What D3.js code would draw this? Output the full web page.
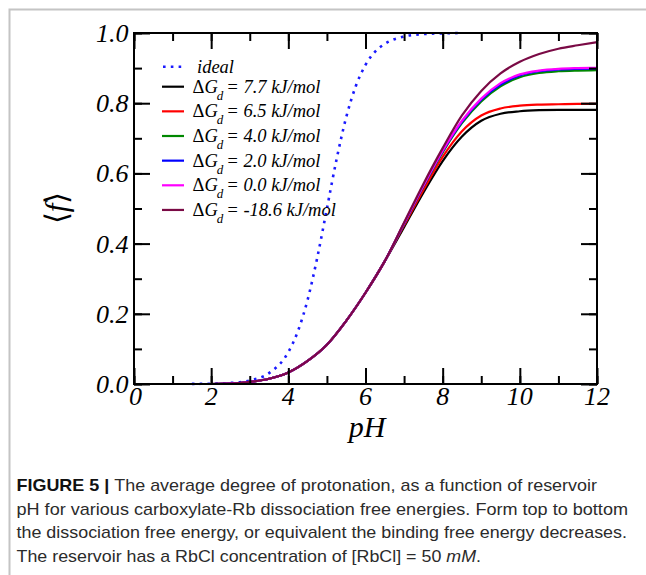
<!DOCTYPE html>
<html>
<head>
<meta charset="utf-8">
<script src="https://cdn.jsdelivr.net/npm/d3@7"></script>
<style>
  html, body { margin: 0; padding: 0; background: #fff; }
  svg { display: block; }
</style>
</head>
<body>
<svg id="fig" width="646" height="575"></svg>
<script>
// pH grid shared by the simulated curves
const phSim = [0, 1, 2, 2.5, 3, 3.5, 4, 4.5, 5, 5.5, 6, 6.5, 7, 7.5, 8, 8.5, 9, 9.5, 10, 10.5, 11, 11.5, 12];

// average degree of protonation <f> for each dissociation free energy
const f77  = [0, 0, 0.000, 0.001, 0.006, 0.015, 0.033, 0.066, 0.112, 0.18, 0.26, 0.35, 0.447, 0.545, 0.635, 0.705, 0.75, 0.77, 0.777, 0.780, 0.781, 0.781, 0.781];
const f65  = [0, 0, 0.000, 0.001, 0.006, 0.015, 0.033, 0.066, 0.112, 0.18, 0.26, 0.35, 0.452, 0.553, 0.647, 0.72, 0.765, 0.785, 0.793, 0.796, 0.797, 0.798, 0.798];
const f40  = [0, 0, 0.000, 0.001, 0.006, 0.015, 0.033, 0.066, 0.112, 0.18, 0.26, 0.35, 0.456, 0.562, 0.66, 0.743, 0.805, 0.848, 0.874, 0.886, 0.891, 0.893, 0.894];
const f20  = [0, 0, 0.000, 0.001, 0.006, 0.015, 0.033, 0.066, 0.112, 0.18, 0.26, 0.35, 0.457, 0.564, 0.663, 0.747, 0.81, 0.853, 0.879, 0.891, 0.896, 0.898, 0.899];
const f00  = [0, 0, 0.000, 0.001, 0.006, 0.015, 0.033, 0.066, 0.112, 0.18, 0.26, 0.35, 0.458, 0.565, 0.665, 0.75, 0.813, 0.857, 0.882, 0.893, 0.898, 0.900, 0.901];
const f186 = [0, 0, 0.000, 0.001, 0.006, 0.015, 0.033, 0.066, 0.112, 0.18, 0.26, 0.35, 0.46, 0.57, 0.672, 0.765, 0.835, 0.885, 0.918, 0.94, 0.955, 0.965, 0.974];

// ideal titration curve
const phIdeal = [1.5, 2, 2.5, 3, 3.5, 4, 4.25, 4.5, 4.75, 5, 5.25, 5.5, 5.75, 6, 6.25, 6.5, 7, 7.5, 8, 8.5];
const fIdeal  = [0.0003, 0.001, 0.003, 0.010, 0.031, 0.091, 0.151, 0.240, 0.360, 0.500, 0.640, 0.760, 0.849, 0.909, 0.947, 0.969, 0.990, 0.997, 0.999, 1.000];

const seriesNames = ["7.7", "6.5", "4.0", "2.0", "0.0", "-18.6"];
const seriesValues = [f77, f65, f40, f20, f00, f186];
const seriesColors = ["#000000", "#ff0000", "#008800", "#0000ff", "#ff00ff", "#7a0a45"];

const xTicks = [0, 2, 4, 6, 8, 10, 12];
const yTicks = [0.0, 0.2, 0.4, 0.6, 0.8, 1.0];

const captionLines = [
  "The average degree of protonation, as a function of reservoir",
  "pH for various carboxylate-Rb dissociation free energies. Form top to bottom",
  "the dissociation free energy, or equivalent the binding free energy decreases.",
  "The reservoir has a RbCl concentration of [RbCl] = 50 "
];

const svg = d3.select("#fig");
const serif = "'Liberation Serif', 'Times New Roman', serif";
const sans = "'Liberation Sans', Arial, sans-serif";

// panel border
svg.append("path")
  .attr("d", "M646,9.5 H9.5 V575")
  .attr("fill", "none").attr("stroke", "#c4c4c4").attr("stroke-width", 2);

const x = d3.scaleLinear().domain([0, 12]).range([134, 597]);
const y = d3.scaleLinear().domain([0, 1]).range([384, 33]);

const plot = svg.append("g");

// curves
const line = d3.line().x(d => x(d[0])).y(d => y(d[1])).curve(d3.curveMonotoneX);

plot.append("path")
  .datum(phIdeal.map((p, i) => [p, fIdeal[i]]))
  .attr("d", line)
  .attr("fill", "none").attr("stroke", "#1a1aff")
  .attr("stroke-width", 2.6).attr("stroke-dasharray", "2.6,5.2");

seriesValues.forEach((vals, k) => {
  plot.append("path")
    .datum(phSim.map((p, i) => [p, vals[i]]))
    .attr("d", line)
    .attr("fill", "none").attr("stroke", seriesColors[k])
    .attr("stroke-width", 2.2).attr("stroke-linejoin", "round");
});

// axes with inward ticks on all four sides
const minorX = d3.range(0, 12.01, 1), minorY = d3.range(0, 1.001, 0.1);
function tickAxis(axisGen, tr) {
  const g = svg.append("g").attr("transform", tr).call(axisGen);
  g.select(".domain").remove();
  g.selectAll("line").attr("stroke", "#000").attr("stroke-width", 2);
  g.selectAll("text").remove();
  return g;
}
tickAxis(d3.axisBottom(x).tickValues(minorX).tickSize(-8), "translate(0,384)");
tickAxis(d3.axisBottom(x).tickValues(xTicks).tickSize(-16), "translate(0,384)");
tickAxis(d3.axisTop(x).tickValues(minorX).tickSize(-8), "translate(0,33)");
tickAxis(d3.axisTop(x).tickValues(xTicks).tickSize(-16), "translate(0,33)");
tickAxis(d3.axisLeft(y).tickValues(minorY).tickSize(-8), "translate(134,0)");
tickAxis(d3.axisLeft(y).tickValues(yTicks).tickSize(-16), "translate(134,0)");
tickAxis(d3.axisRight(y).tickValues(minorY).tickSize(-8), "translate(597,0)");
tickAxis(d3.axisRight(y).tickValues(yTicks).tickSize(-16), "translate(597,0)");

svg.append("rect")
  .attr("x", x(0)).attr("y", y(1))
  .attr("width", x(12) - x(0)).attr("height", y(0) - y(1))
  .attr("fill", "none").attr("stroke", "#000").attr("stroke-width", 2);

// tick labels
svg.append("g").selectAll("text").data(xTicks).join("text")
  .attr("x", d => x(d) + (d === 0 ? 1.5 : 0)).attr("y", 404.5)
  .attr("text-anchor", "middle")
  .attr("font-family", serif).attr("font-style", "italic").attr("font-size", 26)
  .text(d => d);
svg.append("g").selectAll("text").data(yTicks).join("text")
  .attr("x", 128.5).attr("y", d => y(d) + 9)
  .attr("text-anchor", "end")
  .attr("font-family", serif).attr("font-style", "italic").attr("font-size", 26)
  .text(d => d.toFixed(1));

// axis titles
svg.append("text")
  .attr("x", 367).attr("y", 436.5).attr("text-anchor", "middle")
  .attr("font-family", serif).attr("font-style", "italic").attr("font-size", 30)
  .text("pH");
svg.append("text")
  .attr("transform", "translate(67,208) rotate(-90)")
  .attr("text-anchor", "middle")
  .attr("font-family", serif).attr("font-size", 31)
  .call(t => {
    t.append("tspan").text("\u27E8");
    t.append("tspan").attr("font-style", "italic").text("f");
    t.append("tspan").text("\u27E9");
  });

// legend
const lg = svg.append("g").attr("font-family", serif).attr("font-size", 18.5).attr("font-style", "italic");
lg.append("line")
  .attr("x1", 163).attr("x2", 184).attr("y1", 66.7).attr("y2", 66.7)
  .attr("stroke", "#1a1aff").attr("stroke-width", 2.6).attr("stroke-dasharray", "2.6,5.2");
lg.append("text").attr("x", 197).attr("y", 72.5).text("ideal");
seriesNames.forEach((name, k) => {
  const yy = 86.7 + k * 24.65;
  lg.append("line")
    .attr("x1", 162).attr("x2", 184).attr("y1", yy).attr("y2", yy)
    .attr("stroke", seriesColors[k]).attr("stroke-width", 2.2);
  const t = lg.append("text").attr("x", 192.5).attr("y", yy + 6);
  t.append("tspan").attr("font-style", "normal").text("\u0394");
  t.append("tspan").text("G");
  t.append("tspan").attr("dy", 7).attr("dx", -1).attr("font-size", 13).text("d");
  t.append("tspan").attr("dy", -7).attr("dx", 3).text("= " + name + " kJ/mol");
});

// caption
const cap = svg.append("g").attr("font-family", sans).attr("fill", "#2b2b2b").attr("font-size", 17);
const capY = [491, 514.7, 538.4, 562];
const capEnd = [597, 628, 627, 481];
captionLines.forEach((txt, i) => {
  const t = cap.append("text").attr("x", 16.5).attr("y", capY[i]);
  if (i === 0) {
    t.append("tspan").attr("font-weight", "bold").attr("fill", "#111").text("FIGURE 5 | ");
    t.append("tspan").text(txt);
  } else if (i === 3) {
    t.append("tspan").text(txt);
    t.append("tspan").attr("font-style", "italic").text("mM");
    t.append("tspan").text(".");
  } else {
    t.text(txt);
  }
  t.attr("textLength", capEnd[i] - 16.5).attr("lengthAdjust", "spacingAndGlyphs");
});
</script>
</body>
</html>
